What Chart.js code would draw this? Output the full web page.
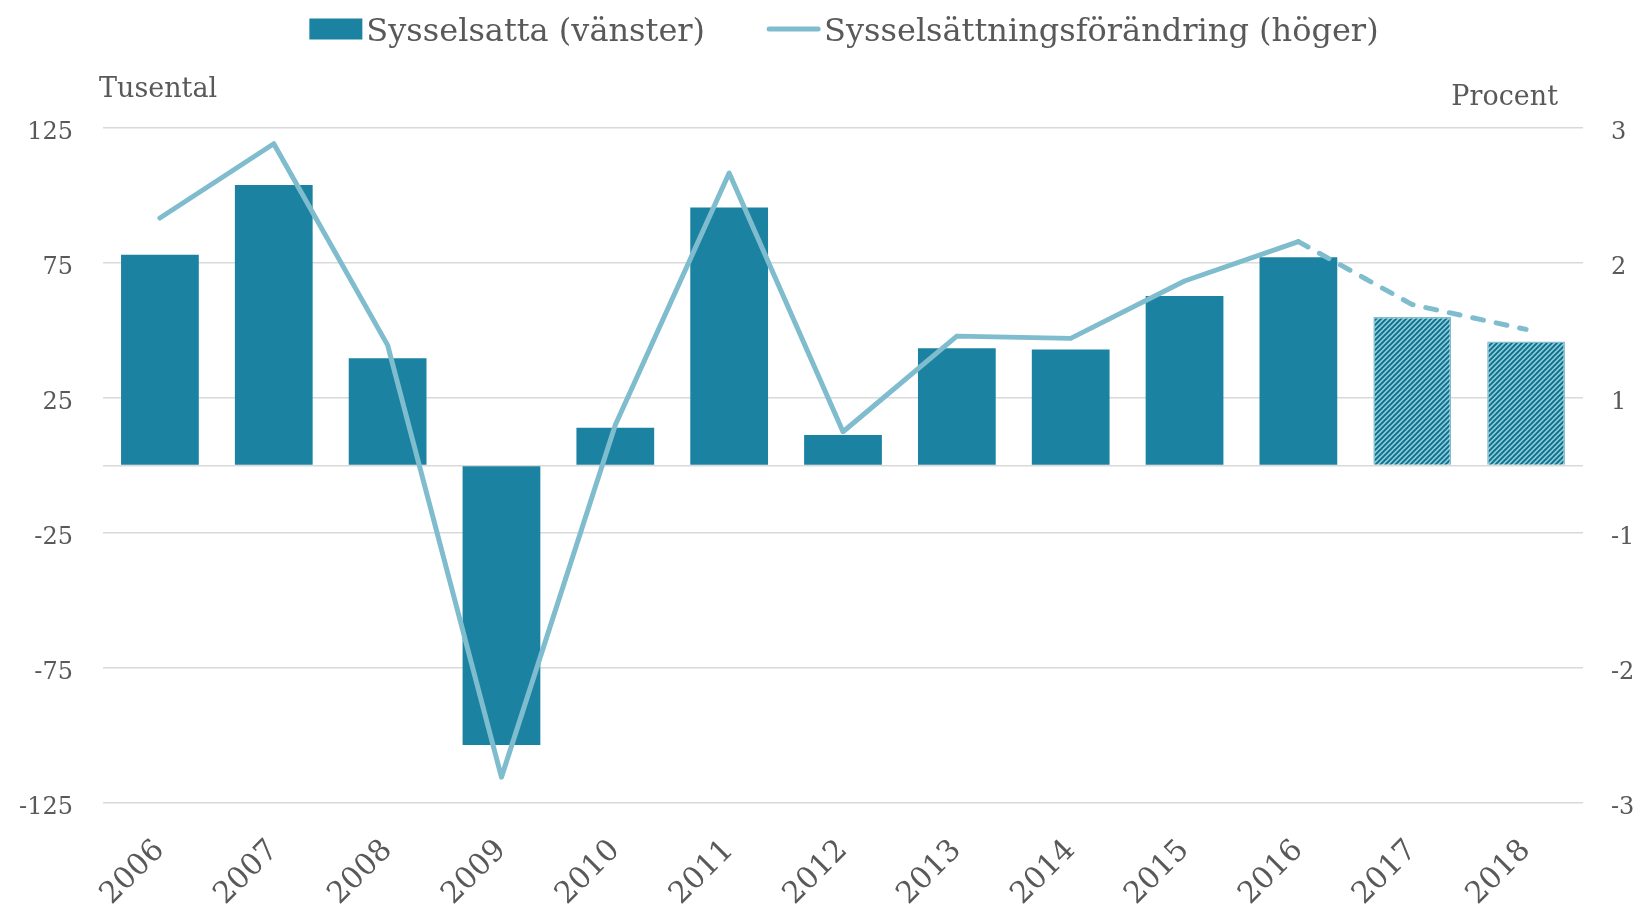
<!DOCTYPE html>
<html lang="sv">
<head>
<meta charset="utf-8">
<title>Sysselsatta</title>
<script src="https://cdn.jsdelivr.net/npm/chart.js@4.4.1/dist/chart.umd.min.js"></script>
<style>
  html, body { margin: 0; padding: 0; background: #ffffff; }
  canvas { display: block; }
</style>
</head>
<body>
<canvas id="grafik" width="1644" height="913"></canvas>
<script>
// Årtal på x-axeln
const ar = ["2006", "2007", "2008", "2009", "2010", "2011", "2012",
            "2013", "2014", "2015", "2016", "2017", "2018"];

// Sysselsatta, förändring i tusental (vänster axel)
const sysselsatta = [78.1, 103.9, 39.7, -103.5, 14.0, 95.6, 11.3,
                     43.4, 43.0, 62.8, 77.1, 55.0, 45.9];

// Sysselsättningsförändring i procent (höger axel)
const forandring = [2.20, 2.86, 1.07, -2.77, 0.36, 2.60, 0.30,
                    1.15, 1.13, 1.64, 1.99, 1.43, 1.21];

// 2017 och 2018 är prognos (randiga staplar, streckad linje)
const prognosStart = 11;

// Axlarnas skalsteg
const vansterTicks = [-125, -75, -25, 0, 25, 75, 125];
const hogerTicks = [-3, -1.8, -0.6, 0.6, 1.8, 3];
const hogerEtiketter = ["-3", "-2", "-1", "1", "2", "3"];

const legendNamn = ["Sysselsatta (vänster)", "Sysselsättningsförändring (höger)"];
const enhetVanster = "Tusental";
const enhetHoger = "Procent";

// Färger
const BLA = "#1b83a1";
const LINJE = "#7fbccd";
const MORK = "#0b6f8c";
const LJUS = "#8ccad8";
const TEXT = "#595959";
const GRID = "#d9d9d9";
const FONT = "'DejaVu Serif', Georgia, serif";

const canvas = document.getElementById("grafik");
const ctx = canvas.getContext("2d");

// randigt mönster för prognosåren
function randigtMonster() {
    const n = 5;
    const c = document.createElement("canvas");
    c.width = n;
    c.height = n;
    const g = c.getContext("2d");
    g.fillStyle = LJUS;
    g.fillRect(0, 0, n, n);
    g.strokeStyle = MORK;
    g.lineWidth = 1.9;
    g.beginPath();
    g.moveTo(-1, n + 1); g.lineTo(n + 1, -1);
    g.moveTo(-1, 1); g.lineTo(1, -1);
    g.moveTo(n - 1, n + 1); g.lineTo(n + 1, n - 1);
    g.stroke();
    return ctx.createPattern(c, "repeat");
}
const monster = randigtMonster();

// Legend och enhetstexter ritas för hand
const textPlugin = {
    id: "texter",
    afterDraw(chart) {
        const { ctx, chartArea } = chart;
        const ds = chart.data.datasets;
        ctx.save();
        ctx.fillStyle = TEXT;
        ctx.textBaseline = "alphabetic";

        // enheter
        ctx.font = "27px " + FONT;
        ctx.textAlign = "left";
        ctx.fillText(enhetVanster, chartArea.left - 4, 97);
        ctx.textAlign = "right";
        ctx.fillText(enhetHoger, chartArea.right - 25, 105);

        // legend
        ctx.font = "32px " + FONT;
        const rutaB = 53, glapp = 4, mellan = 62;
        const w1 = ctx.measureText(legendNamn[0]).width;
        const w2 = ctx.measureText(legendNamn[1]).width;
        const total = rutaB + glapp + w1 + mellan + rutaB + glapp + w2;
        let x = 844 - total / 2;
        const yMitt = 29;

        ctx.fillStyle = ds[0].backgroundColor[0];
        ctx.fillRect(x, yMitt - 10.5, rutaB, 21);
        x += rutaB + glapp;
        ctx.fillStyle = TEXT;
        ctx.textAlign = "left";
        ctx.fillText(legendNamn[0], x, 41);
        x += w1 + mellan;

        ctx.strokeStyle = ds[1].borderColor;
        ctx.lineWidth = 5;
        ctx.lineCap = "round";
        ctx.beginPath();
        ctx.moveTo(x + 2, yMitt);
        ctx.lineTo(x + rutaB - 2, yMitt);
        ctx.stroke();
        x += rutaB + glapp;
        ctx.fillText(legendNamn[1], x, 41);

        ctx.restore();
    }
};

new Chart(ctx, {
    data: {
        labels: ar,
        datasets: [
            {
                type: "bar",
                label: legendNamn[0],
                data: sysselsatta,
                yAxisID: "y",
                order: 1,
                backgroundColor: ar.map((_, i) => i >= prognosStart ? monster : BLA),
                borderColor: ar.map((_, i) => i >= prognosStart ? LINJE : BLA),
                borderWidth: ar.map((_, i) => i >= prognosStart ? 1.5 : 0),
                barPercentage: 0.683,
                categoryPercentage: 1
            },
            {
                type: "line",
                label: legendNamn[1],
                data: forandring,
                yAxisID: "y1",
                order: 0,
                borderColor: LINJE,
                borderWidth: 5,
                borderCapStyle: "round",
                borderJoinStyle: "round",
                pointRadius: 0,
                tension: 0,
                fill: false,
                segment: {
                    borderDash: c => c.p0DataIndex >= prognosStart - 1 ? [11, 13] : undefined
                }
            }
        ]
    },
    options: {
        responsive: false,
        animation: false,
        layout: { padding: { top: 128, left: 0, right: 0, bottom: 0 } },
        plugins: {
            legend: { display: false },
            tooltip: { enabled: false }
        },
        scales: {
            x: {
                offset: true,
                grid: { display: false },
                border: { display: false },
                ticks: {
                    color: TEXT,
                    font: { family: FONT, size: 30 },
                    minRotation: 45,
                    maxRotation: 45,
                    padding: 22
                },
                afterFit: s => { s.height = 110; }
            },
            y: {
                position: "left",
                min: -125,
                max: 125,
                afterBuildTicks: s => { s.ticks = vansterTicks.map(v => ({ value: v })); },
                ticks: {
                    color: TEXT,
                    font: { family: FONT, size: 24 },
                    padding: 30,
                    labelOffset: 5,
                    callback: v => v === 0 ? "" : String(v)
                },
                grid: { color: GRID, lineWidth: 1.5, drawTicks: false },
                border: { display: false },
                afterFit: s => { s.width = 103; }
            },
            y1: {
                position: "right",
                min: -3,
                max: 3,
                afterBuildTicks: s => { s.ticks = hogerTicks.map(v => ({ value: v })); },
                ticks: {
                    color: TEXT,
                    font: { family: FONT, size: 24 },
                    padding: 28,
                    labelOffset: 5,
                    callback: (v, i) => hogerEtiketter[i]
                },
                grid: { display: false, drawTicks: false },
                border: { display: false },
                afterFit: s => { s.width = 61; }
            }
        }
    },
    plugins: [textPlugin]
});
</script>
</body>
</html>
